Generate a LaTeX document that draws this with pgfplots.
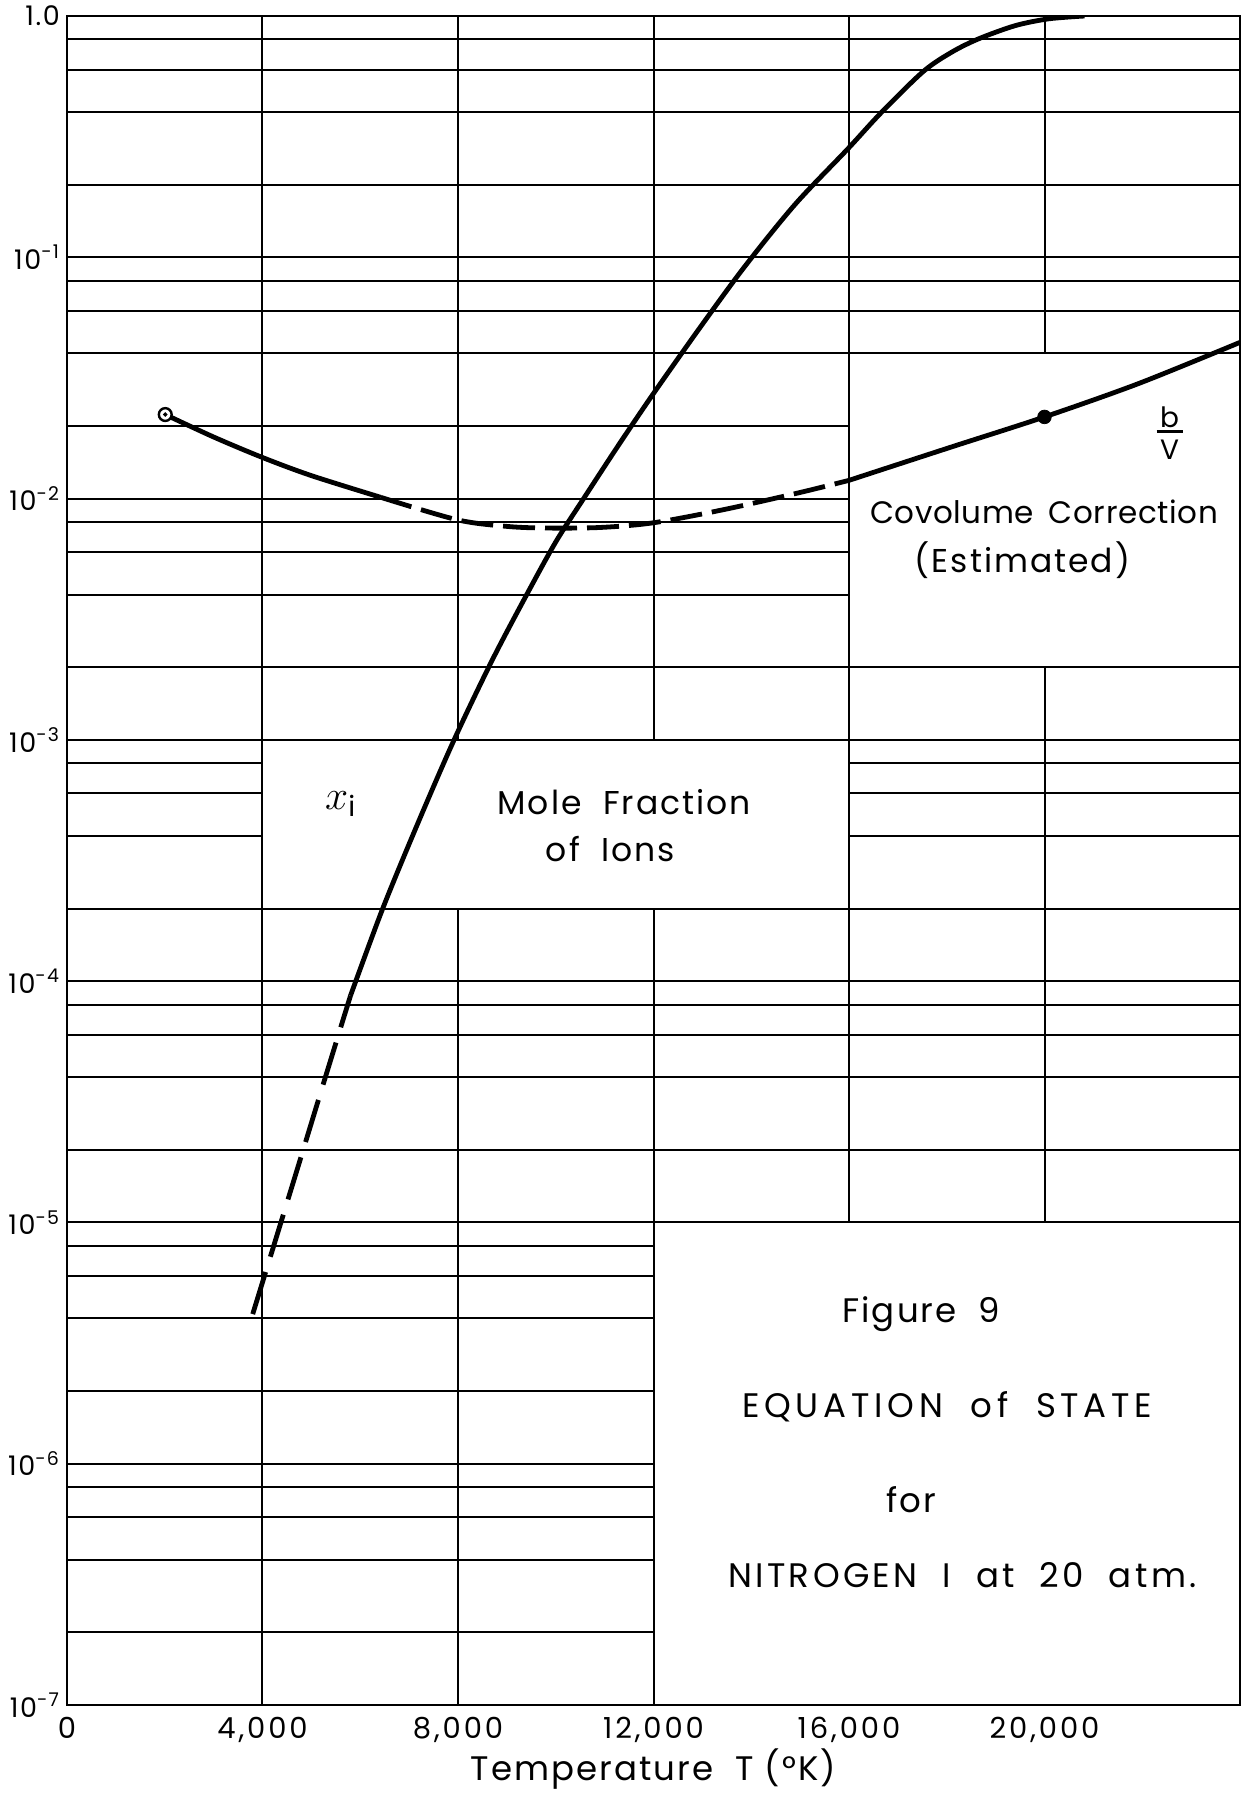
\documentclass[border=0pt]{standalone}
\usepackage{pgfplots}
\pgfplotsset{compat=1.18}
\usepackage{fontspec}
\setmainfont{Poppins}[LetterSpace=6]

\begin{document}
\begin{tikzpicture}
\begin{axis}[
  scale only axis, width=586.5pt, height=844.5pt,
  xmin=0, xmax=24000,
  ymode=log, ymin=1e-7, ymax=1,
  scaled x ticks=false,
  axis line style={line width=1.4pt},
  grid=both,
  major grid style={black, line width=1pt},
  minor grid style={black, line width=1pt},
  major tick length=0pt, minor tick length=0pt,
  xtick={0,4000,8000,12000,16000,20000},
  xticklabels={0,{4,000},{8,000},{12,000},{16,000},{20,000}},
  ytick={1e-7,1e-6,1e-5,1e-4,1e-3,1e-2,1e-1,1},
  yticklabels={10\textsuperscript{-7},10\textsuperscript{-6},10\textsuperscript{-5},10\textsuperscript{-4},10\textsuperscript{-3},10\textsuperscript{-2},10\textsuperscript{-1},1.0},
  minor ytick={2e-7,4e-7,6e-7,8e-7,2e-6,4e-6,6e-6,8e-6,2e-5,4e-5,6e-5,8e-5,2e-4,4e-4,6e-4,8e-4,2e-3,4e-3,6e-3,8e-3,2e-2,4e-2,6e-2,8e-2,0.2,0.4,0.6,0.8},
  yticklabel style={font=\fontsize{13.5}{13.5}\selectfont},
  xticklabel style={font=\fontsize{14.5}{14.5}\selectfont\addfontfeatures{LetterSpace=10}, anchor=base, yshift=-16.5pt},
  xlabel={Temperature\ \ T (°K)},
  xlabel style={font=\fontsize{17}{17}\selectfont, at={(axis description cs:0.5,0)}, anchor=base, yshift=-37.5pt},
  /pgf/number format/assume math mode=true,
]
\coordinate (sw) at (rel axis cs:0,0);
\coordinate (ne) at (rel axis cs:1,1);

% white boxes over the grid
\fill[white] (axis cs:16000,0.002) rectangle (axis cs:24000,0.04);
\draw[line width=1pt] (axis cs:16000,0.002) rectangle (axis cs:24000,0.04);
\fill[white] (axis cs:4000,2e-4) rectangle (axis cs:16000,1e-3);
\draw[line width=1pt] (axis cs:4000,2e-4) rectangle (axis cs:16000,1e-3);
\fill[white] (axis cs:12000,1e-7) rectangle (axis cs:24000,1e-5);
\draw[line width=1pt] (axis cs:12000,1e-7) rectangle (axis cs:24000,1e-5);
\draw[line width=1.4pt] (rel axis cs:0,0) rectangle (rel axis cs:1,1);

% mole fraction of ions, x_i
\addplot[line width=2.4pt, smooth, dash pattern=on 22pt off 8pt] coordinates {
(3800,4.17e-6)
(4350,9.6e-6)
(4760,1.79e-5)
(5210,3.56e-5)
(5580,6.24e-5)
(5800,8.7e-5)
};
\addplot[line width=2.4pt, smooth] coordinates {
(5800,8.7e-5)
(6460,2.0e-4)
(7170,4.47e-4)
(7920,1.0e-3)
(8700,2.14e-3)
(9400,3.98e-3)
(10000,6.61e-3)
(10570,0.0100)
(11280,0.0166)
(11980,0.0269)
(12920,0.0501)
(13860,0.0912)
(14900,0.166)
(15980,0.282)
(16660,0.398)
(17520,0.589)
(18100,0.708)
(18650,0.804)
(19400,0.912)
(20080,0.973)
(20820,1.0)
};

% covolume correction b/V
\addplot[line width=2.4pt, smooth] coordinates {
(2010,0.0223)
(3000,0.0180)
(4000,0.0148)
(5000,0.01245)
(6420,0.01012)
};
\addplot[line width=2.4pt, smooth, dash pattern=on 16pt off 5pt] coordinates {
(6420,0.01012)
(7980,0.00817)
(9000,0.00767)
(9800,0.00755)
(10900,0.00759)
(12000,0.00794)
(13460,0.00902)
(15000,0.0106)
(16000,0.0119)
};
\addplot[line width=2.4pt, smooth] coordinates {
(16000,0.0119)
(18110,0.0164)
(20000,0.0218)
(21930,0.0300)
(24000,0.0444)
};
\addplot[only marks, mark=*, mark size=3.2pt, mark options={fill=white, line width=1.2pt}] coordinates {(2010,0.0223)};
\addplot[only marks, mark=*, mark size=0.9pt] coordinates {(2010,0.0223)};
\addplot[only marks, mark=*, mark size=3.4pt] coordinates {(20000,0.0218)};

% labels
\node[font=\fontsize{16.5}{16.5}\selectfont, anchor=base] at (axis cs:11400,4.9e-4) {Mole\ \ Fraction};
\node[font=\fontsize{16.5}{16.5}\selectfont, anchor=base] at (axis cs:11120,3.13e-4) {of\ \ Ions};
\node[font=\fontsize{20}{20}\selectfont] at (axis cs:5600,5.4e-4) {$x_{\mathrm{i}}$};
\node[font=\fontsize{15.5}{15.5}\selectfont\addfontfeatures{LetterSpace=2}, anchor=base] at (axis cs:19990,7.9e-3) {Covolume\ \hspace{3pt}Correction};
\node[font=\fontsize{16.5}{16.5}\selectfont, anchor=base] at (axis cs:19550,4.94e-3) {(Estimated)};
\node[font=\fontsize{14}{14}\selectfont, anchor=base] at (axis cs:22560,0.0197) {b};
\node[inner sep=0pt] at (axis cs:22560,0.0190) {\rule{13pt}{1.3pt}};
\node[font=\fontsize{14}{14}\selectfont, anchor=base] at (axis cs:22560,0.01456) {V};
\node[font=\fontsize{17}{17}\selectfont, anchor=base] at (axis cs:17480,3.86e-6) {Figure\ \ 9};
\node[font=\fontsize{17}{17}\selectfont\addfontfeatures{LetterSpace=14}, anchor=base] at (axis cs:18010,1.56e-6) {EQUATION\ \ of\ \ STATE};
\node[font=\fontsize{17}{17}\selectfont, anchor=base] at (axis cs:17275,6.29e-7) {for};
\node[font=\fontsize{17}{17}\selectfont\addfontfeatures{LetterSpace=10}, anchor=base] at (axis cs:18320,3.08e-7) {NITROGEN\ \ I\ \ at\ \ 20\ \ atm.};
\end{axis}
\pgfresetboundingbox
\path ([shift={(-33.5pt,-44.5pt)}]sw) rectangle ([shift={(3.5pt,8pt)}]ne);
\end{tikzpicture}
\end{document}
